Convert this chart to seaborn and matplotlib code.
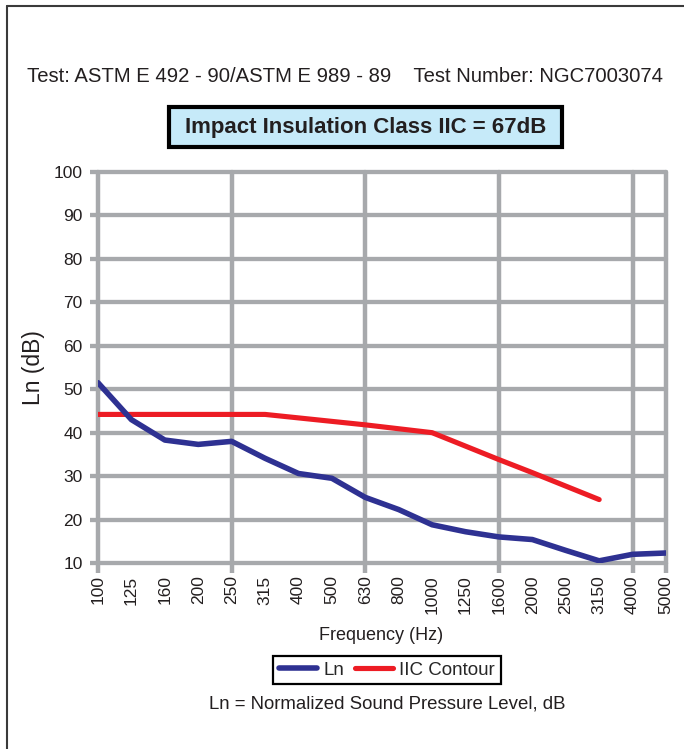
import numpy as np
import pandas as pd
import matplotlib
matplotlib.use("Agg")
import matplotlib.pyplot as plt
import seaborn as sns
from matplotlib.ticker import FixedLocator
from matplotlib.patches import Rectangle
from matplotlib.lines import Line2D

# data
freqs = ["100", "125", "160", "200", "250", "315", "400", "500", "630",
         "800", "1000", "1250", "1600", "2000", "2500", "3150", "4000", "5000"]
ln_values = [51.5, 43.0, 38.3, 37.3, 38.0, 34.1, 30.6, 29.5, 25.1,
             22.3, 18.8, 17.2, 16.0, 15.4, 12.9, 10.5, 12.0, 12.3]
iic_freqs = freqs[:16]
iic_values = [44.2, 44.2, 44.2, 44.2, 44.2, 44.2, 43.4, 42.6, 41.8,
              40.9, 40.0, 36.9, 33.8, 30.8, 27.7, 24.6]
y_ticks = [10, 20, 30, 40, 50, 60, 70, 80, 90, 100]
grid_freqs = ["100", "250", "630", "1600", "4000", "5000"]

ln_df = pd.DataFrame({"pos": range(len(freqs)), "level": ln_values})
iic_df = pd.DataFrame({"pos": [freqs.index(f) for f in iic_freqs], "level": iic_values})

sns.set_theme(style="white")
plt.rcParams["font.family"] = ["Liberation Sans", "DejaVu Sans"]

grey = "#a7a9ac"
blue = "#2e3192"
red = "#ed1c24"
ink = "#231f20"

fig = plt.figure(figsize=(6.84, 7.49), dpi=100)
ax = fig.add_axes([98 / 684, 1 - 563 / 749, 568 / 684, 391 / 749])

sns.lineplot(data=ln_df, x="pos", y="level", color=blue, linewidth=4.0,
             label="Ln", ax=ax, zorder=4)
sns.lineplot(data=iic_df, x="pos", y="level", color=red, linewidth=3.7,
             label="IIC Contour", ax=ax, zorder=3)

ax.set_xlim(0, len(freqs) - 1)
ax.set_ylim(10, 100)
for s in ax.spines.values():
    s.set_visible(False)

# y axis: grid at every 10 with short ticks sticking out
ax.set_yticks(y_ticks)
ax.tick_params(axis="y", which="major", length=6, width=3.1, color=grey,
               direction="out", pad=5, labelsize=12.5, labelcolor=ink, left=True)
ax.yaxis.grid(True, color=grey, linewidth=3.1, clip_on=False)

# x axis: labels at every band, grid only at some
ax.set_xticks(range(len(freqs)))
ax.set_xticklabels(freqs, rotation=90)
ax.tick_params(axis="x", which="major", length=0, pad=9, labelsize=12.5,
               labelcolor=ink)
ax.xaxis.remove_overlapping_locs = False
ax.xaxis.set_minor_locator(FixedLocator([freqs.index(f) for f in grid_freqs]))
ax.tick_params(axis="x", which="minor", length=7, width=3.2, color=grey,
               direction="out", bottom=True)
ax.xaxis.grid(True, which="minor", color=grey, linewidth=3.2, clip_on=False)
ax.xaxis.grid(False, which="major")
ax.set_axisbelow(True)

ax.set_xlabel("")
ax.set_ylabel("Ln (dB)", fontsize=16.5, color=ink)
ax.yaxis.set_label_coords(-0.093, 0.5)

ax.legend(loc="center", bbox_to_anchor=(387 / 684, 1 - 670 / 749),
          bbox_transform=fig.transFigure, ncol=2, frameon=True, fancybox=False,
          edgecolor="black", fontsize=13.5, handlelength=2.0, handletextpad=0.35,
          columnspacing=0.6, borderpad=0.3, borderaxespad=0, framealpha=1)
ax.get_legend().get_frame().set_linewidth(1.6)

fig.text(381 / 684, 1 - 636 / 749, "Frequency (Hz)", ha="center", va="center",
         fontsize=13, color=ink)
fig.text(387 / 684, 1 - 704 / 749, "Ln = Normalized Sound Pressure Level, dB",
         ha="center", va="center", fontsize=13.4, color=ink)
fig.text(345 / 684, 1 - 77 / 749,
         "Test: ASTM E 492 - 90/ASTM E 989 - 89    Test Number: NGC7003074",
         ha="center", va="center", fontsize=14.6, color=ink)

fig.add_artist(Rectangle((169 / 684, 1 - 147 / 749), 393 / 684, 40 / 749,
                         transform=fig.transFigure, facecolor="#c6eaf9",
                         edgecolor="black", linewidth=3))
fig.text(365.5 / 684, 1 - 127 / 749, "Impact Insulation Class IIC = 67dB",
         ha="center", va="center", fontsize=16, fontweight="bold", color=ink)

# page frame (left and top edges)
fig.add_artist(Line2D([7 / 684, 7 / 684], [0, 1 - 6 / 749], transform=fig.transFigure,
                      color="#3a3a3a", linewidth=1.5))
fig.add_artist(Line2D([7 / 684, 1], [1 - 6 / 749, 1 - 6 / 749], transform=fig.transFigure,
                      color="#3a3a3a", linewidth=1.5))

fig.savefig("out.png", dpi=100)
